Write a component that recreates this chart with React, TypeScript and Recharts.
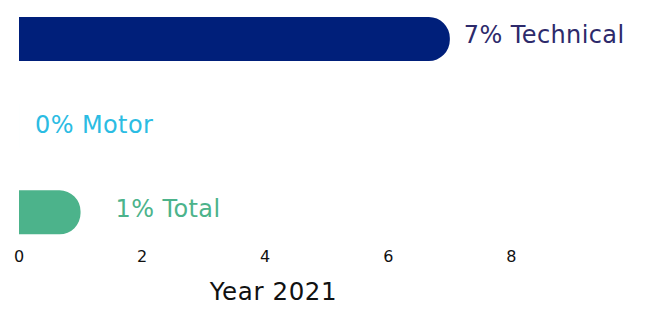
import React from 'react';
import { BarChart, Bar, XAxis, YAxis, Cell, LabelList } from 'recharts';

const categories = ['Technical', 'Motor', 'Total'];
const values = [7, 0, 1];
const xTicks = [0, 2, 4, 6, 8];
const axisTitle = 'Year 2021';

const barColors = ['#001F7A', '#2BBCE3', '#4CB38B'];
const labelColors = ['#2D2A6B', '#2BBCE3', '#4CB38B'];
const labelDx = [14, 16, 35];
const labelDy = [4, 7, 4.5];
const FONT = '"DejaVu Sans", sans-serif';

const data = categories.map((name, i) => ({ name, value: values[i] }));

function BarLabel(props: any) {
  const { x, y, width, height, value } = props;
  const i = categories.indexOf(value);
  if (i < 0) return null;
  return (
    <text
      x={x + width + labelDx[i]}
      y={y + height / 2 + labelDy[i]}
      fontSize={24}
      letterSpacing={0.4}
      fontFamily={FONT}
      fill={labelColors[i]}
    >
      {`${values[i]}% ${categories[i]}`}
    </text>
  );
}

function Tick(props: any) {
  const { x, y, payload } = props;
  return (
    <text x={x} y={y} dy="0.35em" textAnchor="middle" fontSize={16} fontFamily={FONT} fill="#111">
      {payload.value}
    </text>
  );
}

function AxisTitle(props: any) {
  const { viewBox } = props;
  return (
    <text
      x={viewBox.x + viewBox.width / 2 - 4}
      y={viewBox.y + 44}
      textAnchor="middle"
      fontSize={24.5}
      letterSpacing={0.6}
      fontFamily={FONT}
      fill="#111"
    >
      {axisTitle}
    </text>
  );
}

export default function App() {
  return (
    <BarChart
      width={632}
      height={301}
      data={data}
      layout="vertical"
      margin={{ top: -12, right: 104, left: 11, bottom: 23 }}
      barSize={44}
    >
      <XAxis
        type="number"
        domain={[0, 8.4]}
        ticks={xTicks}
        axisLine={false}
        tickLine={false}
        tickSize={0}
        tickMargin={0}
        height={30}
        tick={<Tick />}
        label={<AxisTitle />}
      />
      <YAxis type="category" dataKey="name" hide />
      <Bar dataKey="value" radius={[0, 21, 21, 0]} minPointSize={0.01} isAnimationActive={false}>
        {data.map((d, i) => (
          <Cell key={d.name} fill={barColors[i]} />
        ))}
        <LabelList dataKey="name" content={<BarLabel />} />
      </Bar>
    </BarChart>
  );
}
